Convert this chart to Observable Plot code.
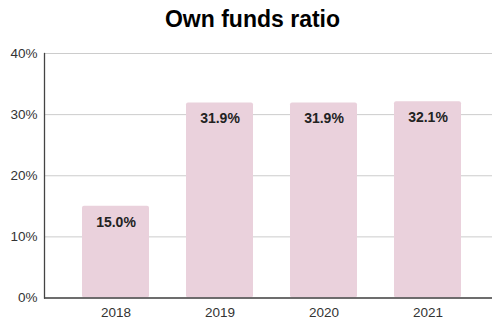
<!DOCTYPE html>
<html>
<head>
<meta charset="utf-8">
<script src="https://cdn.jsdelivr.net/npm/d3@7"></script>
<script src="https://cdn.jsdelivr.net/npm/@observablehq/plot@0.6"></script>
<style>
  html, body { margin: 0; padding: 0; background: #fff; }
  svg { font-family: "Liberation Sans", Arial, sans-serif; }
</style>
</head>
<body>
<div id="chart"></div>
<script>
const title = "Own funds ratio";
const years = ["2018", "2019", "2020", "2021"];
const ratios = [15.0, 31.9, 31.9, 32.1];
const yTicks = [0, 10, 20, 30, 40];

const data = years.map((y, i) => ({year: y, value: ratios[i]}));

const chart = Plot.plot({
  width: 492,
  height: 319,
  marginTop: 53,
  marginBottom: 21.5,
  marginLeft: 44,
  marginRight: 0,
  style: {fontFamily: "Liberation Sans, Arial, sans-serif", fontSize: "13.5px", color: "#333", background: "#fff"},
  x: {domain: years, range: [44, 498], padding: 0.357, label: null, tickSize: 0, tickPadding: 9},
  y: {domain: [0, 40], ticks: yTicks, tickFormat: d => d + "%", label: null, tickSize: 0, tickPadding: 7},
  marks: [
    Plot.gridY(yTicks, {stroke: "#cccccc", strokeOpacity: 1}),
    Plot.barY(data, {x: "year", y: "value", fill: "#ead1dc", rx: 2}),
    Plot.ruleY([0], {stroke: "#444", strokeWidth: 1.3}),
    Plot.frame({anchor: "left", stroke: "#444", strokeWidth: 1.3}),
    Plot.text(data, {x: "year", y: "value", text: d => d.value.toFixed(1) + "%", dy: 16, fontWeight: "bold", fontSize: 14, fill: "#222"}),
    Plot.text([title], {frameAnchor: "top", lineAnchor: "middle", text: d => d, dx: -16, dy: -34, fontWeight: "bold", fontSize: 23, fill: "#000"})
  ]
});
document.getElementById("chart").appendChild(chart);
</script>
</body>
</html>
